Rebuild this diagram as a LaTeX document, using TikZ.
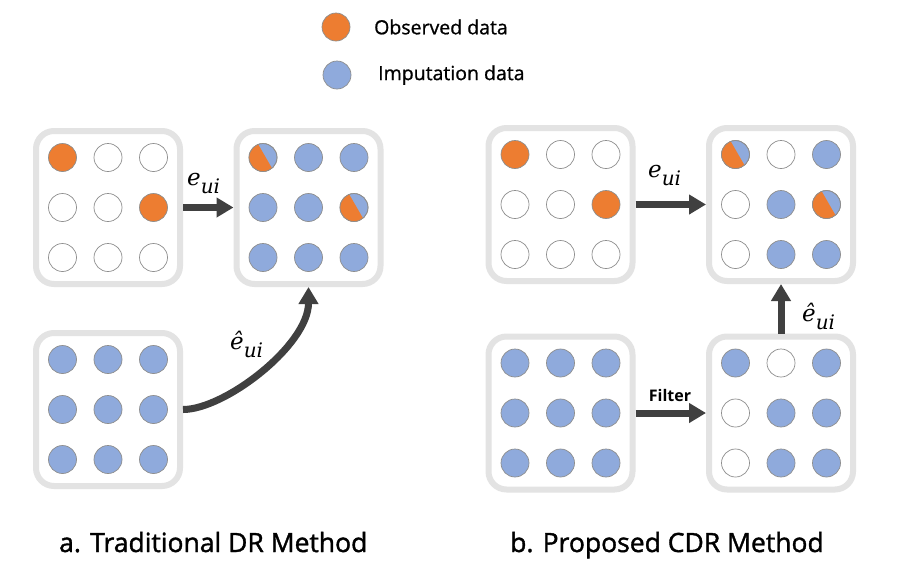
\RequirePackage{fix-cm}
\documentclass[tikz,border=0pt]{standalone}
\usepackage{fontspec}
\setmainfont{Open Sans}
\newfontfamily\capfont{Open Sans}[FakeBold=1.4]
\newfontfamily\legfont{Open Sans}[FakeBold=0.9]
\newfontfamily\mfont{DejaVu Serif}
\usetikzlibrary{arrows.meta,calc}
\definecolor{obscol}{HTML}{ED7D31}
\definecolor{impcol}{HTML}{8FAADC}
\definecolor{boxgray}{HTML}{E3E3E3}
\definecolor{ringgray}{HTML}{8E8E8E}
\definecolor{arrowgray}{HTML}{404040}
\tikzset{
  box/.style={draw=boxgray, line width=6pt, rounded corners=18pt, fill=white,
    minimum width=144pt, minimum height=153pt, inner sep=0pt},
  dot/.style={circle, draw=ringgray, line width=0.7pt, minimum size=28pt, inner sep=0pt, outer sep=0pt},
  obs/.style={fill=obscol},
  imp/.style={fill=impcol},
  emp/.style={fill=white},
  ring/.style={draw=ringgray, line width=0.7pt},
  arr/.style={draw=arrowgray, line width=7pt, -{Triangle[length=17pt,width=19pt]}},
  mlab/.style={anchor=base west, inner sep=0pt, font=\mfont\itshape\fontsize{23}{26}\selectfont},
  leg/.style={anchor=west, inner sep=0pt, font=\legfont\fontsize{19.5}{23}\selectfont},
  captext/.style={anchor=base west, inner sep=0pt, font=\capfont\fontsize{26.5}{30}\selectfont},
  flab/.style={inner sep=0pt, font=\bfseries\fontsize{16}{20}\selectfont}
}
\newcommand\cellgrid[2]{%
  \foreach \t [count=\k from 0] in {#2} {%
    \pgfmathtruncatemacro\rr{div(\k,3)}%
    \pgfmathtruncatemacro\cc{mod(\k,3)}%
    \pgfmathsetmacro\xo{\cc*45.5-45.5}%
    \pgfmathsetmacro\yo{\rr*50-50}%
    \edef\tmp{\noexpand\node[dot,\t] (#1-\rr-\cc) at ($(#1.center)+(\xo,\yo)$) {};}%
    \tmp
  }%
}
\newcommand\halfdot[1]{%
  \fill[obscol] (#1.110) \foreach \a in {120,130,...,310} { -- (#1.\a) } -- cycle;
  \draw[ring] (#1.center) circle[radius=14pt];
}
\newcommand\sub[1]{\raisebox{-8pt}{\fontsize{20}{22}\selectfont #1}}
\begin{document}
\begin{tikzpicture}[x=1pt,y=-1pt]
\useasboundingbox[fill=white] (0,0) rectangle (899,579);
% legend
\node[dot,obs] (lo) at (336,27) {};
\node[leg] (lot) at (374,27) {Observed data};
\node[dot,imp] (li) at (337,75) {};
\node[leg] (lit) at (378,75) {Imputation data};
% boxes
\node[box] (A) at (108,207.5) {};
\node[box] (B) at (308.5,207.5) {};
\node[box] (C) at (108,409.5) {};
\node[box] (D) at (560.5,204.5) {};
\node[box] (E) at (781,204.5) {};
\node[box] (F) at (560.5,413) {};
\node[box] (G) at (781,413) {};
\cellgrid{A}{obs,emp,emp,emp,emp,obs,emp,emp,emp}
\cellgrid{B}{imp,imp,imp,imp,imp,imp,imp,imp,imp}
\cellgrid{C}{imp,imp,imp,imp,imp,imp,imp,imp,imp}
\cellgrid{D}{obs,emp,emp,emp,emp,obs,emp,emp,emp}
\cellgrid{E}{imp,emp,imp,emp,imp,imp,emp,imp,imp}
\cellgrid{F}{imp,imp,imp,imp,imp,imp,imp,imp,imp}
\cellgrid{G}{imp,emp,imp,emp,imp,imp,emp,imp,imp}
\halfdot{B-0-0}
\halfdot{B-1-2}
\halfdot{E-0-0}
\halfdot{E-1-2}
% arrows
\draw[arr] (A.east) -- (B.west);
\draw[arr] (C.east) .. controls (225,409.5) and (308.5,345) .. (B.south);
\draw[arr] (D.east) -- (E.west);
\draw[arr] (F.east) -- (G.west);
\draw[arr] (G.north) -- (E.south);
% labels
\node[mlab] (l1) at (187,185) {e\sub{ui}};
\node[mlab] (l2) at (230,349) {ê\sub{ui}};
\node[mlab] (l3) at (648,177) {e\sub{ui}};
\node[mlab] (l4) at (802,321) {ê\sub{ui}};
\node[flab] (lf) at (670,395) {Filter};
% captions
\node[captext] (ca) at (59,552) {a. Traditional DR Method};
\node[captext] (cb) at (510,552) {b. Proposed CDR Method};
\end{tikzpicture}
\end{document}
